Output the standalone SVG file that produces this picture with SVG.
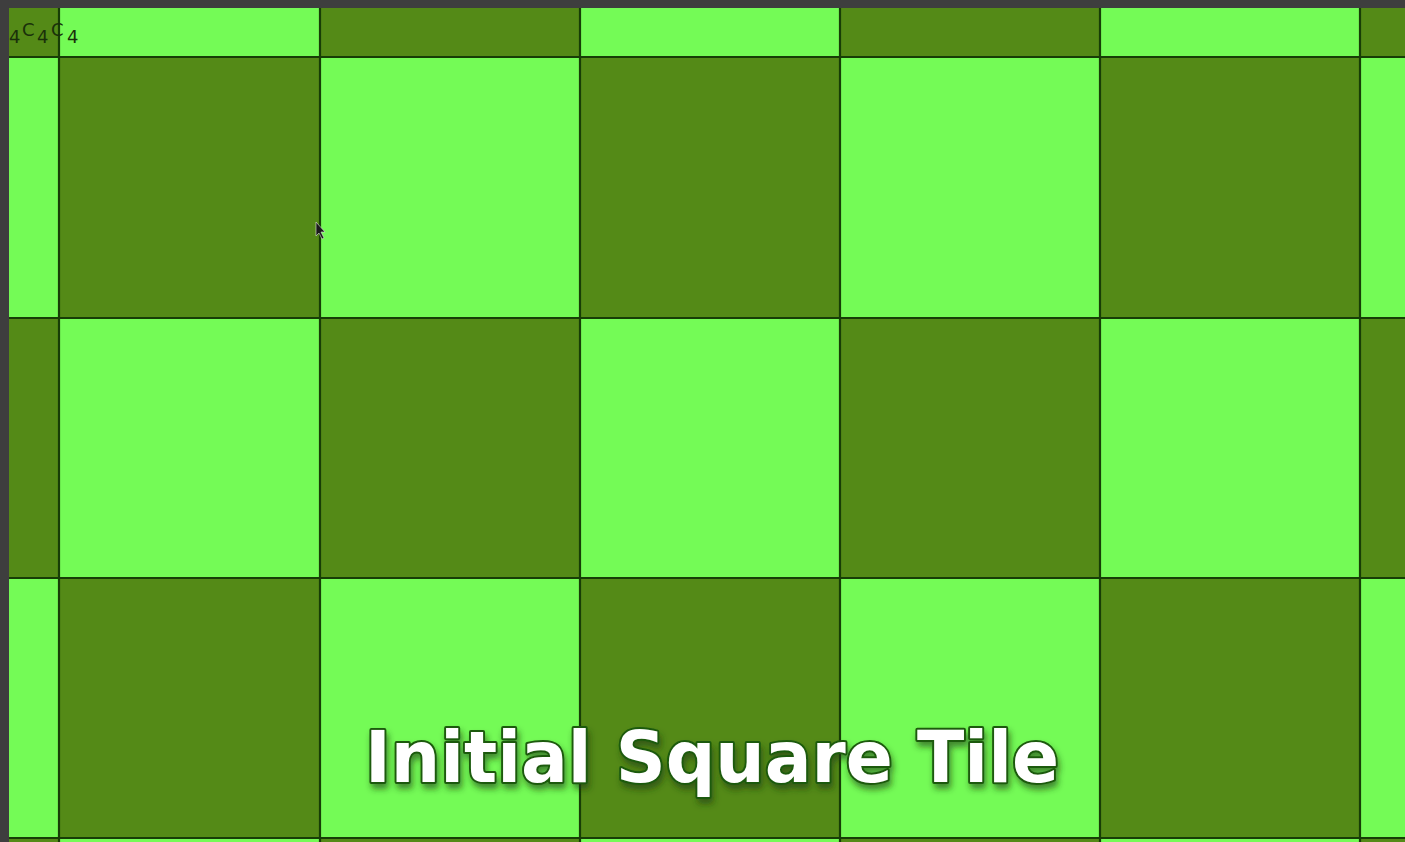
<svg xmlns="http://www.w3.org/2000/svg" width="1405" height="842" viewBox="0 0 1405 842">
<defs>
<style>
.l{fill:#74fb56}
.d{fill:#548a17}
.g{stroke:#173d06;stroke-width:2.2;fill:none}
.lbl{font-family:"DejaVu Sans","Liberation Sans",sans-serif;font-size:18px;fill:#1a300a}
.title{font-family:"DejaVu Sans","Liberation Sans",sans-serif;font-weight:bold;font-size:71px;fill:#ffffff;stroke:#1c5a0c;stroke-width:4;paint-order:stroke;stroke-linejoin:round}
</style>
<filter id="shadow" x="-5%" y="-30%" width="110%" height="160%">
<feDropShadow dx="2" dy="5" stdDeviation="3" flood-color="#1e3a0c" flood-opacity="0.6"/>
</filter>
</defs>
<rect x="0" y="0" width="1405" height="842" fill="#3e3e3e"/>
<g id="tiles">
<rect class="d" x="9" y="8" width="50" height="49"/>
<rect class="l" x="59" y="8" width="261" height="49"/>
<rect class="d" x="320" y="8" width="260" height="49"/>
<rect class="l" x="580" y="8" width="260" height="49"/>
<rect class="d" x="840" y="8" width="260" height="49"/>
<rect class="l" x="1100" y="8" width="260" height="49"/>
<rect class="d" x="1360" y="8" width="45" height="49"/>

<rect class="l" x="9" y="57" width="50" height="261"/>
<rect class="d" x="59" y="57" width="261" height="261"/>
<rect class="l" x="320" y="57" width="260" height="261"/>
<rect class="d" x="580" y="57" width="260" height="261"/>
<rect class="l" x="840" y="57" width="260" height="261"/>
<rect class="d" x="1100" y="57" width="260" height="261"/>
<rect class="l" x="1360" y="57" width="45" height="261"/>

<rect class="d" x="9" y="318" width="50" height="260"/>
<rect class="l" x="59" y="318" width="261" height="260"/>
<rect class="d" x="320" y="318" width="260" height="260"/>
<rect class="l" x="580" y="318" width="260" height="260"/>
<rect class="d" x="840" y="318" width="260" height="260"/>
<rect class="l" x="1100" y="318" width="260" height="260"/>
<rect class="d" x="1360" y="318" width="45" height="260"/>

<rect class="l" x="9" y="578" width="50" height="260"/>
<rect class="d" x="59" y="578" width="261" height="260"/>
<rect class="l" x="320" y="578" width="260" height="260"/>
<rect class="d" x="580" y="578" width="260" height="260"/>
<rect class="l" x="840" y="578" width="260" height="260"/>
<rect class="d" x="1100" y="578" width="260" height="260"/>
<rect class="l" x="1360" y="578" width="45" height="260"/>

<rect class="d" x="9" y="838" width="50" height="4"/>
<rect class="l" x="59" y="838" width="261" height="4"/>
<rect class="d" x="320" y="838" width="260" height="4"/>
<rect class="l" x="580" y="838" width="260" height="4"/>
<rect class="d" x="840" y="838" width="260" height="4"/>
<rect class="l" x="1100" y="838" width="260" height="4"/>
<rect class="d" x="1360" y="838" width="45" height="4"/>
</g>
<g id="connectors">
<path class="g" d="M59 8V842M320 8V842M580 8V842M840 8V842M1100 8V842M1360 8V842"/>
<path class="g" d="M9 57H1405M9 318H1405M9 578H1405M9 838H1405"/>
</g>
<g id="label">
<text class="lbl" x="9" y="43">4</text>
<text class="lbl" x="22" y="36">C</text>
<text class="lbl" x="37" y="43">4</text>
<text class="lbl" x="51" y="36">C</text>
<text class="lbl" x="67" y="43">4</text>
</g>
<g id="cursor">
<path d="M316 222 L316 236 L319 233 L322 239 L324 238 L321 232 L325 232 Z" fill="#1a1a1a" stroke="#dddddd" stroke-width="0.6"/>
</g>
<g id="title">
<text class="title" x="365" y="782" textLength="694" lengthAdjust="spacingAndGlyphs" filter="url(#shadow)">Initial Square Tile</text>
</g>
</svg>
